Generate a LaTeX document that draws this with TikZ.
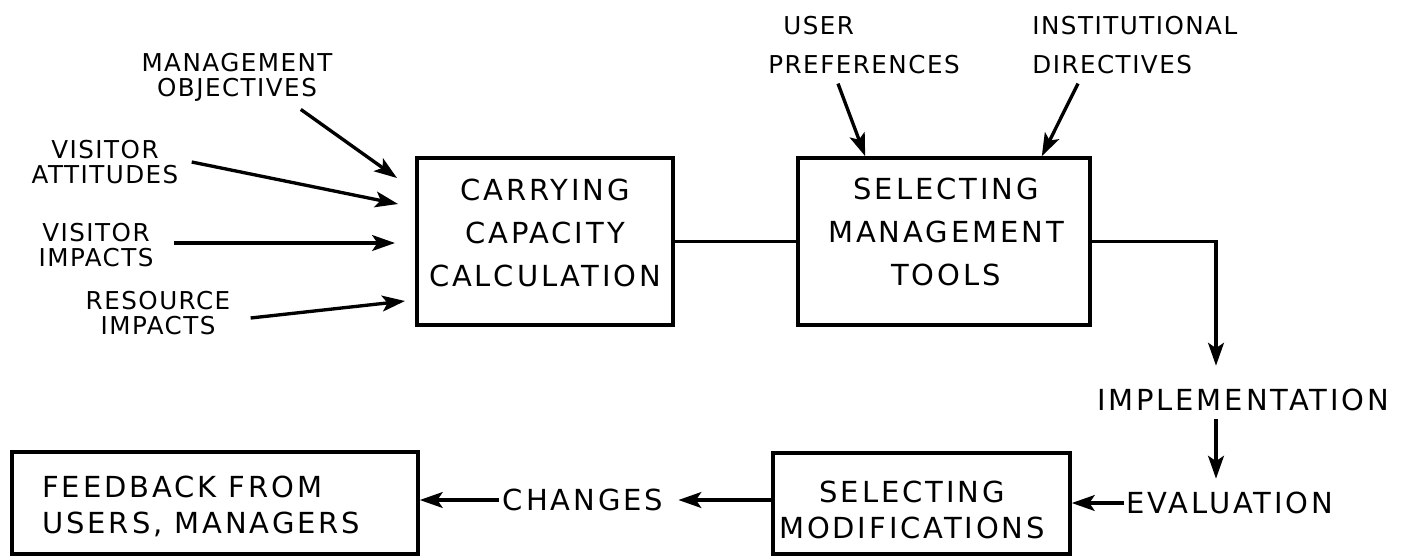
\documentclass[tikz,border=0pt]{standalone}
\usepackage{fontspec}
\setmainfont{DejaVu Sans}
\newfontfamily\boxfont[LetterSpace=10]{DejaVu Sans}
\newfontfamily\lblfont[LetterSpace=6]{DejaVu Sans}
\usetikzlibrary{arrows.meta}
\tikzset{
  blk/.style={draw, line width=2.1pt, inner sep=0pt},
  btxt/.style={font=\boxfont\fontsize{16.5}{24.5}\selectfont, align=center, inner sep=0pt},
  btxtb/.style={font=\boxfont\fontsize{16.5}{20.4}\selectfont, inner sep=0pt},
  ltxt/.style={font=\lblfont\fontsize{14}{14.2}\selectfont, align=center, inner sep=0pt},
  ltxtw/.style={font=\lblfont\fontsize{14}{22.7}\selectfont, align=left, inner sep=0pt, anchor=west},
  arr/.style={line width=1.9pt, -{Stealth[length=13pt,width=9pt,inset=3pt]}},
  conn/.style={line width=1.9pt},
}
\begin{document}
\begin{tikzpicture}[x=0.02cm,y=-0.02cm]
\useasboundingbox (0,0) rectangle (1403,556);
\fill[white] (0,0) rectangle (1403,556);

% boxes
\node[blk, minimum width=5.12cm, minimum height=3.34cm] (cc) at (545,241.5) {};
\node[btxt] (cct) at (545,233) {CARRYING\\CAPACITY\\CALCULATION};

\node[blk, minimum width=5.84cm, minimum height=3.34cm] (smt) at (944,241.5) {};
\node[btxt] (smtt) at (946,232) {SELECTING\\MANAGEMENT\\TOOLS};

\node[blk, minimum width=5.94cm, minimum height=2.02cm] (sm) at (921.5,503.5) {};
\node[btxtb, align=center] (smtx) at (912,510) {SELECTING\\MODIFICATIONS};

\node[blk, minimum width=8.12cm, minimum height=2.04cm] (fb) at (215,503) {};
\node[btxtb, align=left, anchor=west] (fbt) at (42,506) {FEEDBACK FROM\\USERS, MANAGERS};

% labels
\node[ltxt] (mo) at (237,77) {MANAGEMENT\\OBJECTIVES};
\node[ltxt] (va) at (105,162) {VISITOR\\ATTITUDES};
\node[ltxt] (vi) at (96,245) {VISITOR\\IMPACTS};
\node[ltxt] (ri) at (158,313) {RESOURCE\\IMPACTS};
\node[ltxtw] (up) at (768,45) {\hspace*{0.3cm}USER\\PREFERENCES};
\node[ltxtw] (id) at (1032,45) {INSTITUTIONAL\\DIRECTIVES};

\node[btxt] (impl) at (1243,400) {IMPLEMENTATION};
\node[btxt] (eval) at (1230,503) {EVALUATION};
\node[btxt] (chg) at (583,500) {CHANGES};

% arrow tips near the carrying capacity box
\coordinate (t1) at (397,178);
\coordinate (t2) at (398,204);
\coordinate (t3) at (395,243);
\coordinate (t4) at (405,301);

% connectors
\draw[arr] ([shift={(-32,8)}]mo.south east) -- (t1);
\draw[arr] ([shift={(13,0)}]va.east) -- (t2);
\draw[arr] ([shift={(20,-2)}]vi.east) -- (t3);
\draw[arr] ([shift={(20,5)}]ri.east) -- (t4);

\draw[conn] (cc.east) -- (smt.west);

\draw[arr] ([shift={(70,9)}]up.south west) -- ([shift={(69,0)}]smt.north west);
\draw[arr] ([shift={(46,9)}]id.south west) -- ([shift={(-50,0)}]smt.north east);

\draw[arr] (smt.east) -| ([shift={(-27,-23)}]impl.north);
\draw[arr] ([shift={(-27,8)}]impl.south) -- ([shift={(-14,-13)}]eval.north);
\draw[arr] ([shift={(-2,0)}]eval.west) -- (sm.east |- eval.west);
\draw[arr] (sm.west |- chg.east) -- ([shift={(15,0)}]chg.east);
\draw[arr] ([shift={(-4,0)}]chg.west) -- (fb.east |- chg.west);
\end{tikzpicture}
\end{document}
